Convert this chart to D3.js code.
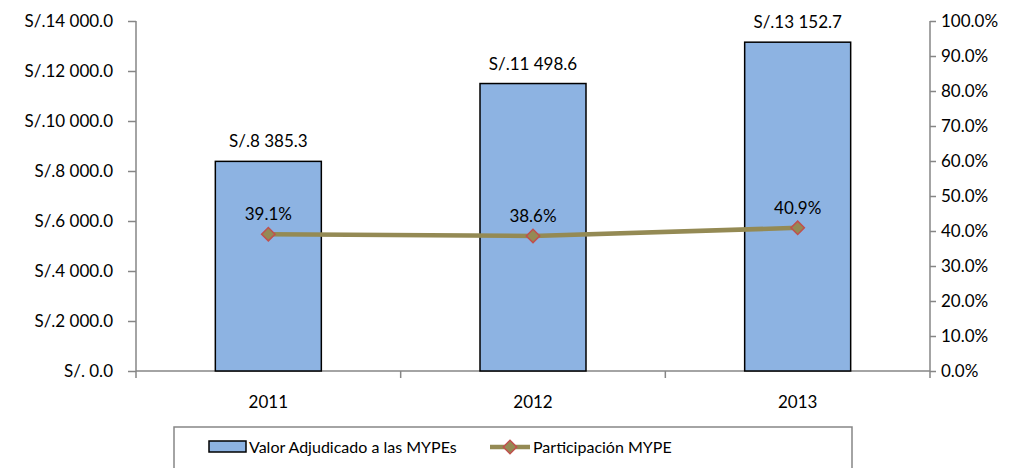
<!DOCTYPE html>
<html>
<head>
<meta charset="utf-8">
<script src="https://cdn.jsdelivr.net/npm/d3@7"></script>
<style>
  body { margin: 0; background: #fff; }
  text { font-family: Lato, "Open Sans", sans-serif; fill: #000; }
</style>
</head>
<body>
<svg id="chart" width="1021" height="468"></svg>
<script>
const years = ["2011", "2012", "2013"];
const valor = [8385.3, 11498.6, 13152.7];
const participacion = [0.391, 0.386, 0.409];
const leftTicks = [0, 2000, 4000, 6000, 8000, 10000, 12000, 14000];
const rightTicks = [0, 0.1, 0.2, 0.3, 0.4, 0.5, 0.6, 0.7, 0.8, 0.9, 1.0];

const svg = d3.select("#chart");
const pLeft = 136, pRight = 930, pTop = 21, pBottom = 371;
const axisColor = "#868686";
const fs = 17;

const x = d3.scaleBand().domain(years).range([pLeft, pRight]);
const yL = d3.scaleLinear().domain([0, 14000]).range([pBottom, pTop]);
const yR = d3.scaleLinear().domain([0, 1]).range([pBottom, pTop]);

// thousands with space separator
const fmtNum = v => {
    if (v === 0) return "S/. 0.0";
    const s = d3.format(",.1f")(v).replace(/,/g, " ");
    return "S/." + s;
};
const fmtPct = d3.format(".1%");

// Left axis
const gL = svg.append("g").attr("transform", `translate(${pLeft},0)`)
    .call(d3.axisLeft(yL).tickValues(leftTicks).tickSize(8).tickPadding(15).tickFormat(fmtNum));
// Right axis
const gR = svg.append("g").attr("transform", `translate(${pRight},0)`)
    .call(d3.axisRight(yR).tickValues(rightTicks).tickSize(6).tickPadding(5).tickFormat(fmtPct));

[gL, gR].forEach(g => {
    g.select(".domain").attr("stroke", axisColor).attr("stroke-width", 1.5);
    g.selectAll(".tick line").attr("stroke", axisColor).attr("stroke-width", 1.5);
    g.selectAll("text").attr("font-size", fs).attr("font-family", "Lato, sans-serif").attr("fill", "#000");
});
gL.select(".domain").attr("d", `M0,${pTop}V${pBottom}`);
gR.select(".domain").attr("d", `M0,${pTop}V${pBottom}`);

// Bottom axis line + boundary ticks
const gX = svg.append("g");
gX.append("line").attr("x1", pLeft).attr("x2", pRight).attr("y1", pBottom).attr("y2", pBottom)
    .attr("stroke", axisColor).attr("stroke-width", 1.5);
const bounds = years.map(d => x(d)).concat([x(years[years.length - 1]) + x.bandwidth()]);
gX.selectAll("line.tk").data(bounds).join("line").attr("class", "tk")
    .attr("x1", d => d).attr("x2", d => d).attr("y1", pBottom).attr("y2", pBottom + 7)
    .attr("stroke", axisColor).attr("stroke-width", 1.5);
gX.selectAll("text").data(years).join("text")
    .attr("x", d => x(d) + x.bandwidth() / 2).attr("y", 408)
    .attr("text-anchor", "middle").attr("font-size", fs).text(d => d);

// Bars
const barW = 106;
const cx = d => x(d) + x.bandwidth() / 2;
svg.append("g").selectAll("rect").data(years).join("rect")
    .attr("x", d => cx(d) - barW / 2)
    .attr("y", (d, i) => yL(valor[i]))
    .attr("width", barW)
    .attr("height", (d, i) => pBottom - yL(valor[i]))
    .attr("fill", "#8DB3E2").attr("stroke", "#000").attr("stroke-width", 1.5);

svg.append("g").selectAll("text").data(years).join("text")
    .attr("x", d => cx(d)).attr("y", (d, i) => yL(valor[i]) - 14)
    .attr("text-anchor", "middle").attr("font-size", fs)
    .text((d, i) => fmtNum(valor[i]));

// Line
const line = d3.line().x(d => cx(d[0])).y(d => yR(d[1]));
const pts = years.map((d, i) => [d, participacion[i]]);
svg.append("path").datum(pts).attr("d", line)
    .attr("fill", "none").attr("stroke", "#948A54").attr("stroke-width", 4.5);

const diamond = d3.symbol().type(d3.symbolSquare).size(90);
svg.append("g").selectAll("path").data(pts).join("path")
    .attr("d", diamond)
    .attr("transform", d => `translate(${cx(d[0])},${yR(d[1])}) rotate(45)`)
    .attr("fill", "#948A54").attr("stroke", "#C0504D").attr("stroke-width", 1.5);

svg.append("g").selectAll("text").data(pts).join("text")
    .attr("x", d => cx(d[0])).attr("y", d => yR(d[1]) - 14)
    .attr("text-anchor", "middle").attr("font-size", fs)
    .text(d => fmtPct(d[1]));

// Legend
const lg = svg.append("g");
lg.append("rect").attr("x", 174).attr("y", 427).attr("width", 678).attr("height", 50)
    .attr("fill", "#fff").attr("stroke", axisColor).attr("stroke-width", 1.5);
lg.append("rect").attr("x", 209).attr("y", 441).attr("width", 37).attr("height", 11)
    .attr("fill", "#8DB3E2").attr("stroke", "#000").attr("stroke-width", 1.5);
lg.append("text").attr("x", 249).attr("y", 453).attr("font-size", 16).text("Valor Adjudicado a las MYPEs");
lg.append("line").attr("x1", 490).attr("x2", 530).attr("y1", 447).attr("y2", 447)
    .attr("stroke", "#948A54").attr("stroke-width", 4.5);
lg.append("path").attr("d", diamond).attr("transform", "translate(510,447) rotate(45)")
    .attr("fill", "#948A54").attr("stroke", "#C0504D").attr("stroke-width", 1.5);
lg.append("text").attr("x", 533).attr("y", 453).attr("font-size", 16).text("Participación MYPE");
</script>
</body>
</html>
